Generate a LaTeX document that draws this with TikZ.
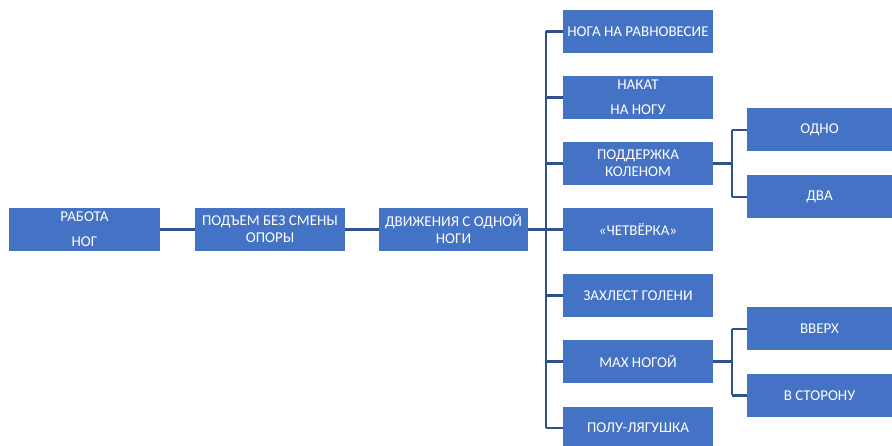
\documentclass[tikz,border=0pt]{standalone}
\usepackage{fontspec}
\setmainfont{Carlito}
\definecolor{boxblue}{HTML}{4472C4}
\definecolor{linkblue}{HTML}{2F528F}
\begin{document}
\begin{tikzpicture}[x=1pt,y=-1pt,
  box/.style={fill=boxblue, text=white, minimum width=150pt, minimum height=43pt,
    inner sep=0pt, align=center, font=\fontsize{15}{17}\selectfont},
  leaf/.style={box, minimum width=145pt},
  link/.style={draw=linkblue, line width=2.5pt}]
\useasboundingbox (0,0) rectangle (892,446);
% main chain
\node[box, minimum width=151pt] (rab) at (84.5,229.5) {РАБОТА\\[8pt]НОГ};
\node[box] (pod) at (270,229.5) {ПОДЪЕМ БЕЗ СМЕНЫ\\ОПОРЫ};
\node[box, minimum width=149pt] (dvi) at (453.5,229.5) {ДВИЖЕНИЯ С ОДНОЙ\\НОГИ};
% right column
\node[box] (r1) at (638,31.5) {НОГА НА РАВНОВЕСИЕ};
\node[box] (r2) at (638,97.5) {НАКАТ\\[8pt]НА НОГУ};
\node[box] (r3) at (638,163.5) {ПОДДЕРЖКА\\КОЛЕНОМ};
\node[box] (r4) at (638,229.5) {«ЧЕТВЁРКА»};
\node[box] (r5) at (638,295.5) {ЗАХЛЕСТ ГОЛЕНИ};
\node[box] (r6) at (638,361.5) {МАХ НОГОЙ};
\node[box] (r7) at (638,428) {ПОЛУ-ЛЯГУШКА};
% leaves
\node[leaf] (odno) at (819.5,130) {ОДНО};
\node[leaf] (dva) at (819.5,197) {ДВА};
\node[leaf] (up) at (819.5,329) {ВВЕРХ};
\node[leaf] (side) at (819.5,395.5) {В СТОРОНУ};
% spines
\coordinate (sp) at (546,0);
\coordinate (bk) at (732,0);
% connectors
\draw[link] (rab.east) -- (pod.west);
\draw[link] (pod.east) -- (dvi.west);
\draw[link] (dvi.east) -- (r4.west);
\draw[link] (r1.west -| sp) -- (r7.west -| sp);
\foreach \n in {r1,r2,r3,r5,r6,r7}{
  \draw[link] (\n.west -| sp) -- (\n.west);
}
\draw[link] (r3.east) -- (r3.east -| bk);
\draw[link] (odno.west -| bk) -- (dva.west -| bk);
\draw[link] (odno.west -| bk) -- (odno.west);
\draw[link] (dva.west -| bk) -- (dva.west);
\draw[link] (r6.east) -- (r6.east -| bk);
\draw[link] (up.west -| bk) -- (side.west -| bk);
\draw[link] (up.west -| bk) -- (up.west);
\draw[link] (side.west -| bk) -- (side.west);
\end{tikzpicture}
\end{document}
